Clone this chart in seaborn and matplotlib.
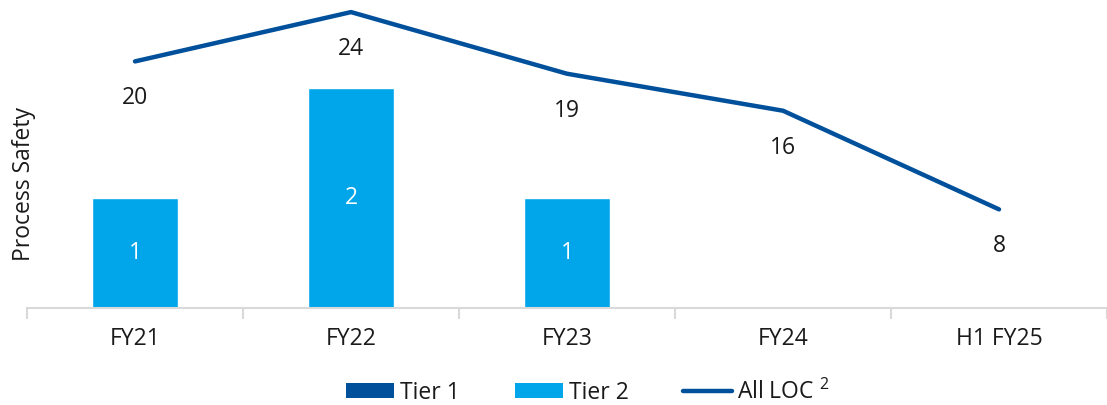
import matplotlib
matplotlib.use('agg')
import matplotlib.pyplot as plt
import numpy as np
import pandas as pd
import seaborn as sns
from matplotlib.patches import Patch
from matplotlib.lines import Line2D

periods = ['FY21', 'FY22', 'FY23', 'FY24', 'H1 FY25']
tier1 = [0, 0, 0, 0, 0]
tier2 = [1, 2, 1, 0, 0]
all_loc = [20, 24, 19, 16, 8]

dark_blue = '#00509B'
light_blue = '#00A6E9'
text_col = '#1a1a1a'

sns.set_theme(style='white')
plt.rcParams['font.family'] = ['Open Sans', 'DejaVu Sans']
plt.rcParams['mathtext.fontset'] = 'custom'
plt.rcParams['mathtext.rm'] = 'Open Sans'
plt.rcParams['mathtext.it'] = 'Open Sans'

data = pd.DataFrame({'period': periods, 'tier1': tier1, 'tier2': tier2, 'loc': all_loc})

fs = 16.5
fig = plt.figure(figsize=(11.07, 4.05), dpi=100)
ax = fig.add_axes([27 / 1107, 1 - 308 / 405, 1080 / 1107, 303 / 405])

sns.barplot(data=data, x='period', y='tier2', color=light_blue, width=0.4,
            saturation=1, ax=ax, order=periods)
sns.barplot(data=data, x='period', y='tier1', color=dark_blue, width=0.4,
            saturation=1, ax=ax, order=periods)

labels = [str(v) if v > 0 else '' for v in tier2]
ax.bar_label(ax.containers[0], labels=labels, label_type='center',
             color='white', fontsize=fs)

ax.set_ylim(0, 303 / 110)
ax.set_xlim(-0.5, len(periods) - 0.5)
ax.set_yticks([])
ax.set_xlabel('')
ax.set_ylabel('Process Safety', fontsize=fs, color=text_col)
ax.yaxis.set_label_coords(0.008, 0.41)
for s in ['top', 'right', 'left']:
    ax.spines[s].set_visible(False)
ax.spines['bottom'].set_color('#D9D9D9')
ax.spines['bottom'].set_linewidth(1.5)
ax.set_xticks(np.arange(len(periods)))
ax.set_xticklabels(periods, fontsize=fs, color=text_col)
ax.tick_params(axis='x', which='major', length=0, pad=14, bottom=True)
ax.set_xticks(np.arange(len(periods) + 1) - 0.5, minor=True)
ax.tick_params(axis='x', which='minor', length=8, width=1.5, color='#D9D9D9',
               direction='out', bottom=True)

ax2 = ax.twinx()
xpos = np.arange(len(periods))
sns.lineplot(x=xpos, y=all_loc, color=dark_blue, linewidth=3.2, ax=ax2,
             solid_capstyle='round')
ax2.set_ylim(0, 303 / 12.33)
ax2.set_yticks([])
for s in ['top', 'right', 'left', 'bottom']:
    ax2.spines[s].set_visible(False)
for x, v in zip(xpos, all_loc):
    ax2.annotate(str(v), (x, v), xytext=(0, -37), textcoords='offset pixels',
                 ha='center', va='center', fontsize=fs, color=text_col)

handles = [Patch(facecolor=dark_blue, edgecolor='none'),
           Patch(facecolor=light_blue, edgecolor='none'),
           Line2D([0], [0], color=dark_blue, linewidth=3.2, solid_capstyle='round')]
fig.legend(handles, ['Tier 1', 'Tier 2', r'All LOC $^{2}$'], loc='center',
           bbox_to_anchor=(588 / 1107, 1 - 392 / 405), ncol=3, frameon=False,
           fontsize=fs, handlelength=2.1, handleheight=0.65, handletextpad=0.25,
           columnspacing=2.4, labelcolor=text_col)

fig.savefig('out.png', dpi=100)
